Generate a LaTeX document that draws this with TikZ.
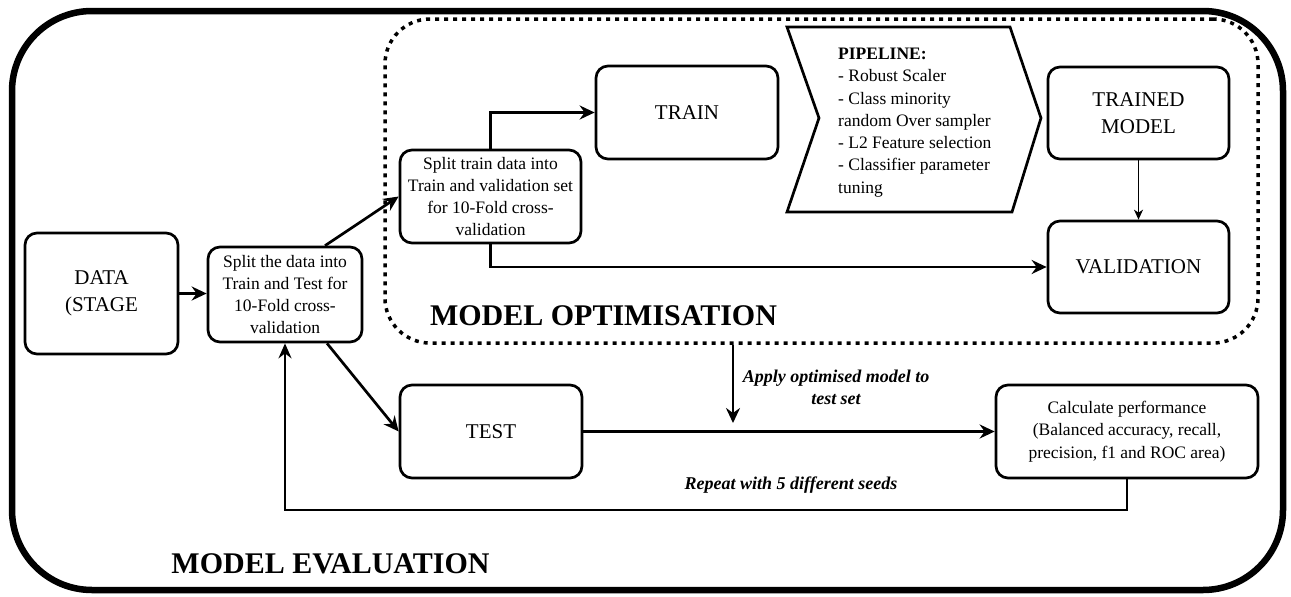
\documentclass[tikz,border=0pt]{standalone}
\usepackage{fontspec}
\setmainfont{Liberation Serif}
\usetikzlibrary{arrows.meta}
\begin{document}
\begin{tikzpicture}[x=1pt,y=-1pt,
  box/.style={draw, line width=2.7pt, rounded corners=12pt, align=center, inner sep=0pt},
  big/.style={font=\fontsize{21}{27}\selectfont},
  small/.style={font=\fontsize{17.5}{22.3}\selectfont},
  arr/.style={line width=2.7pt, -{Stealth[length=15pt,width=14pt,inset=5pt]}},
  thinarr/.style={line width=1.3pt, -{Stealth[length=10pt,width=9pt,inset=3pt]}},
  looparr/.style={line width=2.2pt, -{Stealth[length=15pt,width=13pt,inset=5pt]}},
  note/.style={font=\fontsize{18}{22}\selectfont\bfseries\itshape, align=center, inner sep=0pt},
  title/.style={font=\fontsize{30}{36}\selectfont\bfseries, anchor=base, inner sep=0pt},
]
\useasboundingbox (0,0) rectangle (1291,597);

% outer frame: model evaluation
\node[draw, line width=6.5pt, rounded corners=80pt, minimum width=1271pt, minimum height=579pt, inner sep=0pt] (evalframe) at (647.5,300.5) {};
% dotted container: model optimisation
\node[draw, line width=3.5pt, dash pattern=on 4pt off 5pt, rounded corners=45pt, minimum width=873pt, minimum height=324pt, inner sep=0pt] (opt) at (821.5,181) {};

% boxes
\node[box,big,minimum width=153pt,minimum height=121pt] (data) at (101.5,293.5) {DATA\\(STAGE};
\node[box,small,minimum width=154pt,minimum height=95pt] (split1) at (285,294.5) {Split the data into\\Train and Test for\\10-Fold cross-\\validation};
\node[box,small,minimum width=181pt,minimum height=93pt] (split2) at (490.5,196.5) {Split train data into\\Train and validation set\\for 10-Fold cross-\\validation};
\node[box,big,minimum width=182pt,minimum height=93pt] (train) at (687,112.5) {TRAIN};
\node[box,big,minimum width=181pt,minimum height=92pt] (trained) at (1138.5,113) {TRAINED\\MODEL};
\node[box,big,minimum width=181pt,minimum height=92pt] (valid) at (1138.5,267) {VALIDATION};
\node[box,big,minimum width=182pt,minimum height=93pt] (test) at (491,431.5) {TEST};
\node[box,small,minimum width=262pt,minimum height=93pt] (calc) at (1127,431.5) {Calculate performance\\(Balanced accuracy, recall,\\precision, f1 and ROC area)};

% pipeline chevron
\draw[line width=2.7pt, line join=miter] (787,27) -- (1010,27) -- (1041,118) -- (1012,212) -- (787,212) -- (819,118) -- cycle;
\node[small, anchor=west, align=left, inner sep=0pt] (pipe) at (838,122.5)
  {\textbf{PIPELINE:}\\- Robust Scaler\\- Class minority\\random Over sampler\\- L2 Feature selection\\- Classifier parameter\\tuning};

% titles
\node[title] (optlabel) at (603.5,325) {MODEL OPTIMISATION};
\node[title] (evallabel) at (330.5,573) {MODEL EVALUATION};

% connectors
\draw[arr] (data.east) -- (data.east -| split1.west);
\draw[arr] ([xshift=40pt]split1.north) -- (split2.west);
\draw[arr] ([xshift=42pt]split1.south) -- (test.west);
\draw[arr] (split2.north) |- (train.west);
\draw[arr] (split2.south) |- (valid.west);
\draw[thinarr] (trained.south) -- (valid.north);
\draw[arr] (test.east) -- (calc.west);

\coordinate (applyend) at (733,423);
\draw[arr] (opt.south -| applyend) -- (applyend);
\node[note] (apply) at (836,387) {Apply optimised model to\\test set};

\draw[looparr] (calc.south) -- ++(0,31) -| (split1.south);
\node[note] (repeat) at (791,485) {Repeat with 5 different seeds};
\end{tikzpicture}
\end{document}
